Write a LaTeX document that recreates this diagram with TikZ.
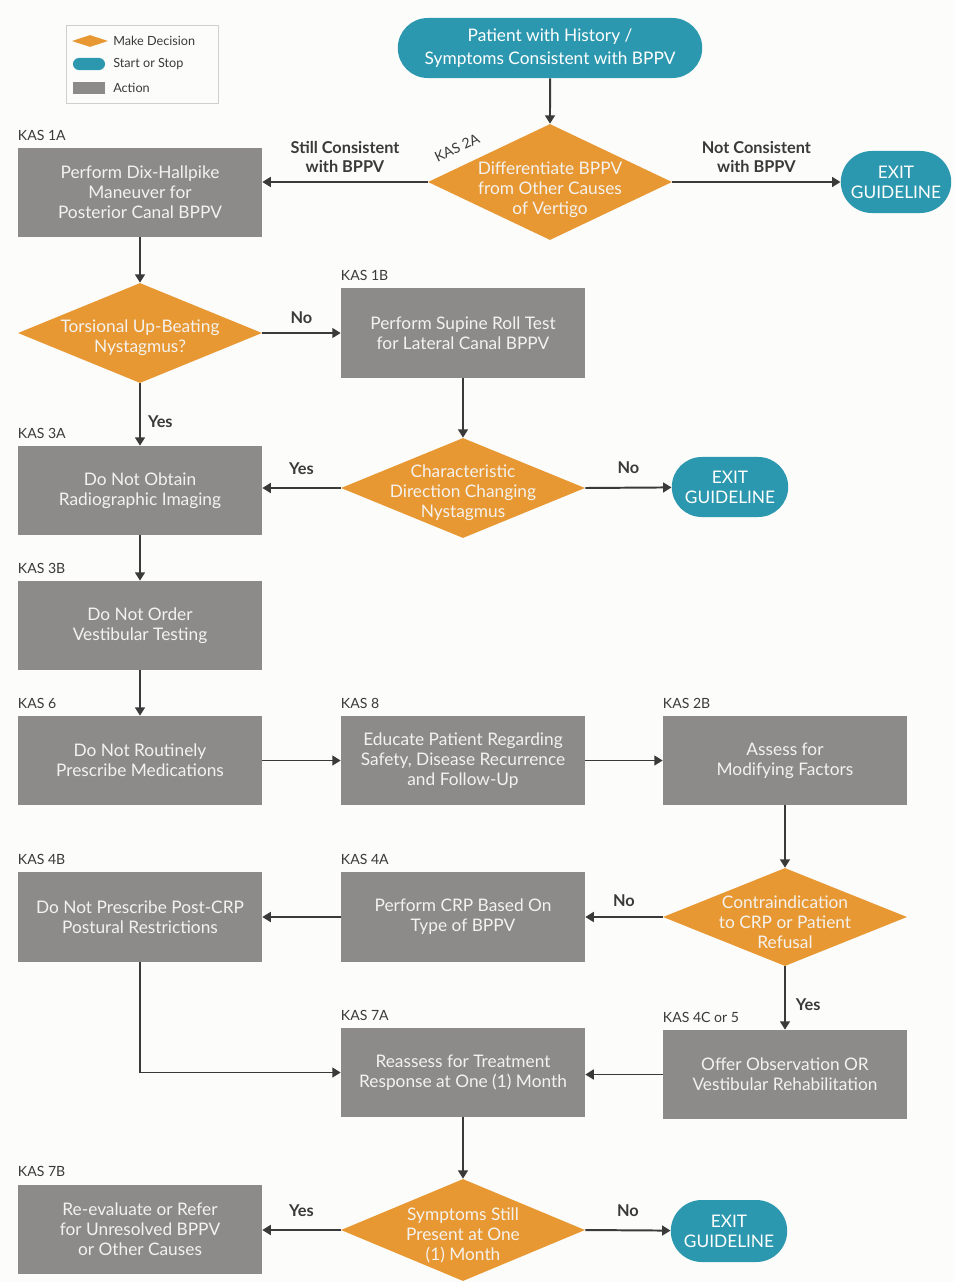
\documentclass[tikz,border=0pt]{standalone}
\usepackage{fontspec}
\setmainfont{Lato}
\usepackage{tikz}
\usetikzlibrary{arrows.meta, shapes.geometric, shapes.misc, positioning}
\definecolor{Paper}{HTML}{FCFCFA}
\definecolor{Ink}{HTML}{3A3A3A}
\definecolor{ActGray}{HTML}{8C8B89}
\definecolor{DecOrange}{HTML}{E89832}
\definecolor{StopTeal}{HTML}{2C98AF}
\definecolor{BoxText}{HTML}{F4F2EE}
\definecolor{Frame}{HTML}{CFCFCF}
\tikzset{
  boxfont/.style={font=\fontsize{12.3}{14.2}\selectfont},
  action/.style={rectangle, fill=ActGray, minimum width=6.1cm, minimum height=2.225cm, align=center, text=BoxText, boxfont, inner sep=2pt},
  decision/.style={diamond, fill=DecOrange, inner sep=0pt, minimum width=6.1cm, minimum height=2.5cm},
  dtext/.style={align=center, text=BoxText, boxfont, inner sep=0pt, yshift=-3.5pt},
  terminal/.style={rounded rectangle, fill=StopTeal, text=white, align=center, boxfont, minimum height=1.5cm, inner sep=2pt},
  flow/.style={-{Triangle[width=7pt, length=6pt]}, line width=1.4pt, color=Ink},
  yesno/.style={font=\bfseries\fontsize{11.6}{13.5}\selectfont, text=Ink, align=center, inner sep=2pt},
  kas/.style={font=\fontsize{10}{11}\selectfont, text=Ink, anchor=south west, inner sep=0pt},
  legendtext/.style={font=\fontsize{9}{11}\selectfont, text=Ink, anchor=west, inner sep=0pt},
}

\begin{document}
\begin{tikzpicture}[x=0.025cm, y=-0.025cm]
  \fill[Paper] (0,0) rectangle (954,1282);
  \useasboundingbox (0,0) rectangle (954,1282);

  % Legend
  \draw[Frame, line width=0.6pt] (66,25) rectangle (218,103);
  \node[diamond, fill=DecOrange, inner sep=0pt, minimum width=0.9cm, minimum height=0.3cm] (lgdec) at (90,41) {};
  \node[rounded rectangle, fill=StopTeal, inner sep=0pt, minimum width=0.8cm, minimum height=0.3cm] (lgterm) at (89,64) {};
  \node[rectangle, fill=ActGray, inner sep=0pt, minimum width=0.8cm, minimum height=0.3cm] (lgact) at (89,88) {};
  \node[legendtext] (lgdect) at (113,41) {Make Decision};
  \node[legendtext] (lgtermt) at (113,64) {Start or Stop};
  \node[legendtext] (lgactt) at (113,88) {Action};

  % Start and KAS 2A
  \node[terminal, minimum width=7.75cm, font=\fontsize{12.3}{16}\selectfont] (start) at (550,48) {Patient with History /\\Symptoms Consistent with BPPV};
  \node[decision, minimum height=2.9cm, label={[dtext, yshift=-2pt]center:Differentiate BPPV\\from Other Causes\\of Vertigo}] (d2a) at (550,182) {};
  \node[kas, anchor=center, rotate=25] (k2a) at (457,148) {KAS 2A};
  \node[action] (b1a) at (140,192.5) {Perform Dix-Hallpike\\Maneuver for\\Posterior Canal BPPV};
  \node[terminal, minimum width=2.9cm, minimum height=1.55cm] (exit1) at (896,182) {EXIT\\GUIDELINE};

  % Posterior / lateral canal
  \node[decision, label={[dtext]center:Torsional Up-Beating\\Nystagmus?}] (tors) at (140,333) {};
  \node[action] (b1b) at (463,333) {Perform Supine Roll Test\\for Lateral Canal BPPV};
  \node[action] (b3a) at (140,490.5) {Do Not Obtain\\Radiographic Imaging};
  \node[decision, label={[dtext]center:Characteristic\\Direction Changing\\Nystagmus}] (dchar) at (463,488) {};
  \node[terminal, minimum width=3.05cm] (exit2) at (730,487) {EXIT\\GUIDELINE};

  % Left column
  \node[action] (b3b) at (140,625.5) {Do Not Order\\Vestibular Testing};
  \node[action] (b6) at (140,760.5) {Do Not Routinely\\Prescribe Medications};
  \node[action] (b8) at (463,760.5) {Educate Patient Regarding\\Safety, Disease Recurrence\\and Follow-Up};
  \node[action] (b2b) at (785,760.5) {Assess for\\Modifying Factors};

  % Treatment
  \node[decision, minimum height=2.45cm, label={[dtext]center:Contraindication\\to CRP or Patient\\Refusal}] (contra) at (785,917) {};
  \node[action] (b4a) at (463,917) {Perform CRP Based On\\Type of BPPV};
  \node[action] (b4b) at (140,917) {Do Not Prescribe Post-CRP\\Postural Restrictions};
  \node[action] (b4c) at (785,1074.5) {Offer Observation OR\\Vestibular Rehabilitation};
  \node[action] (b7a) at (463,1072.5) {Reassess for Treatment\\Response at One (1) Month};

  % Follow-up
  \node[decision, minimum height=2.55cm, label={[dtext]center:Symptoms Still\\Present at One\\(1) Month}] (symp) at (463,1230) {};
  \node[action] (b7b) at (140,1229) {Re-evaluate or Refer\\for Unresolved BPPV\\or Other Causes};
  \node[terminal, minimum width=3.05cm, minimum height=1.55cm] (exit3) at (729,1231) {EXIT\\GUIDELINE};

  % KAS tags
  \foreach \b/\t in {b1a/KAS 1A, b1b/KAS 1B, b3a/KAS 3A, b3b/KAS 3B, b6/KAS 6, b8/KAS 8, b2b/KAS 2B,
                     b4b/KAS 4B, b4a/KAS 4A, b4c/KAS 4C or 5, b7a/KAS 7A, b7b/KAS 7B}{
    \node[kas] (k\b) at ([yshift=5pt]\b.north west) {\t};
  }

  % Connectors
  \draw[flow] (start) -- (d2a);
  \draw[flow] (d2a.west) -- node[yesno, above=4pt] {Still Consistent\\with BPPV} (d2a.west -| b1a.east);
  \draw[flow] (d2a.east) -- node[yesno, above=4pt] {Not Consistent\\with BPPV} (exit1);
  \draw[flow] (b1a) -- (tors);
  \draw[flow] (tors) -- node[yesno, above=4pt] {No} (b1b);
  \draw[flow] (tors) -- node[yesno, pos=0.62, right=3pt] {Yes} (b3a);
  \draw[flow] (b1b) -- (dchar);
  \draw[flow] (dchar.west) -- node[yesno, above=7pt] {Yes} (dchar.west -| b3a.east);
  \draw[flow] (dchar.east) -- node[yesno, above=7pt] {No} (exit2);
  \draw[flow] (b3a) -- (b3b);
  \draw[flow] (b3b) -- (b6);
  \draw[flow] (b6) -- (b8);
  \draw[flow] (b8) -- (b2b);
  \draw[flow] (b2b) -- (contra);
  \draw[flow] (contra) -- node[yesno, above=5pt] {No} (b4a);
  \draw[flow] (b4a) -- (b4b);
  \draw[flow] (contra) -- node[yesno, pos=0.6, right=5pt] {Yes} (b4c);
  \draw[flow] (b4c.west) -- (b4c.west -| b7a.east);
  \draw[flow] (b4b.south) |- (b7a.west);
  \draw[flow] (b7a) -- (symp);
  \draw[flow] (symp.west) -- node[yesno, above=7pt] {Yes} (symp.west -| b7b.east);
  \draw[flow] (symp.east) -- node[yesno, above=7pt] {No} (exit3);
\end{tikzpicture}
\end{document}
